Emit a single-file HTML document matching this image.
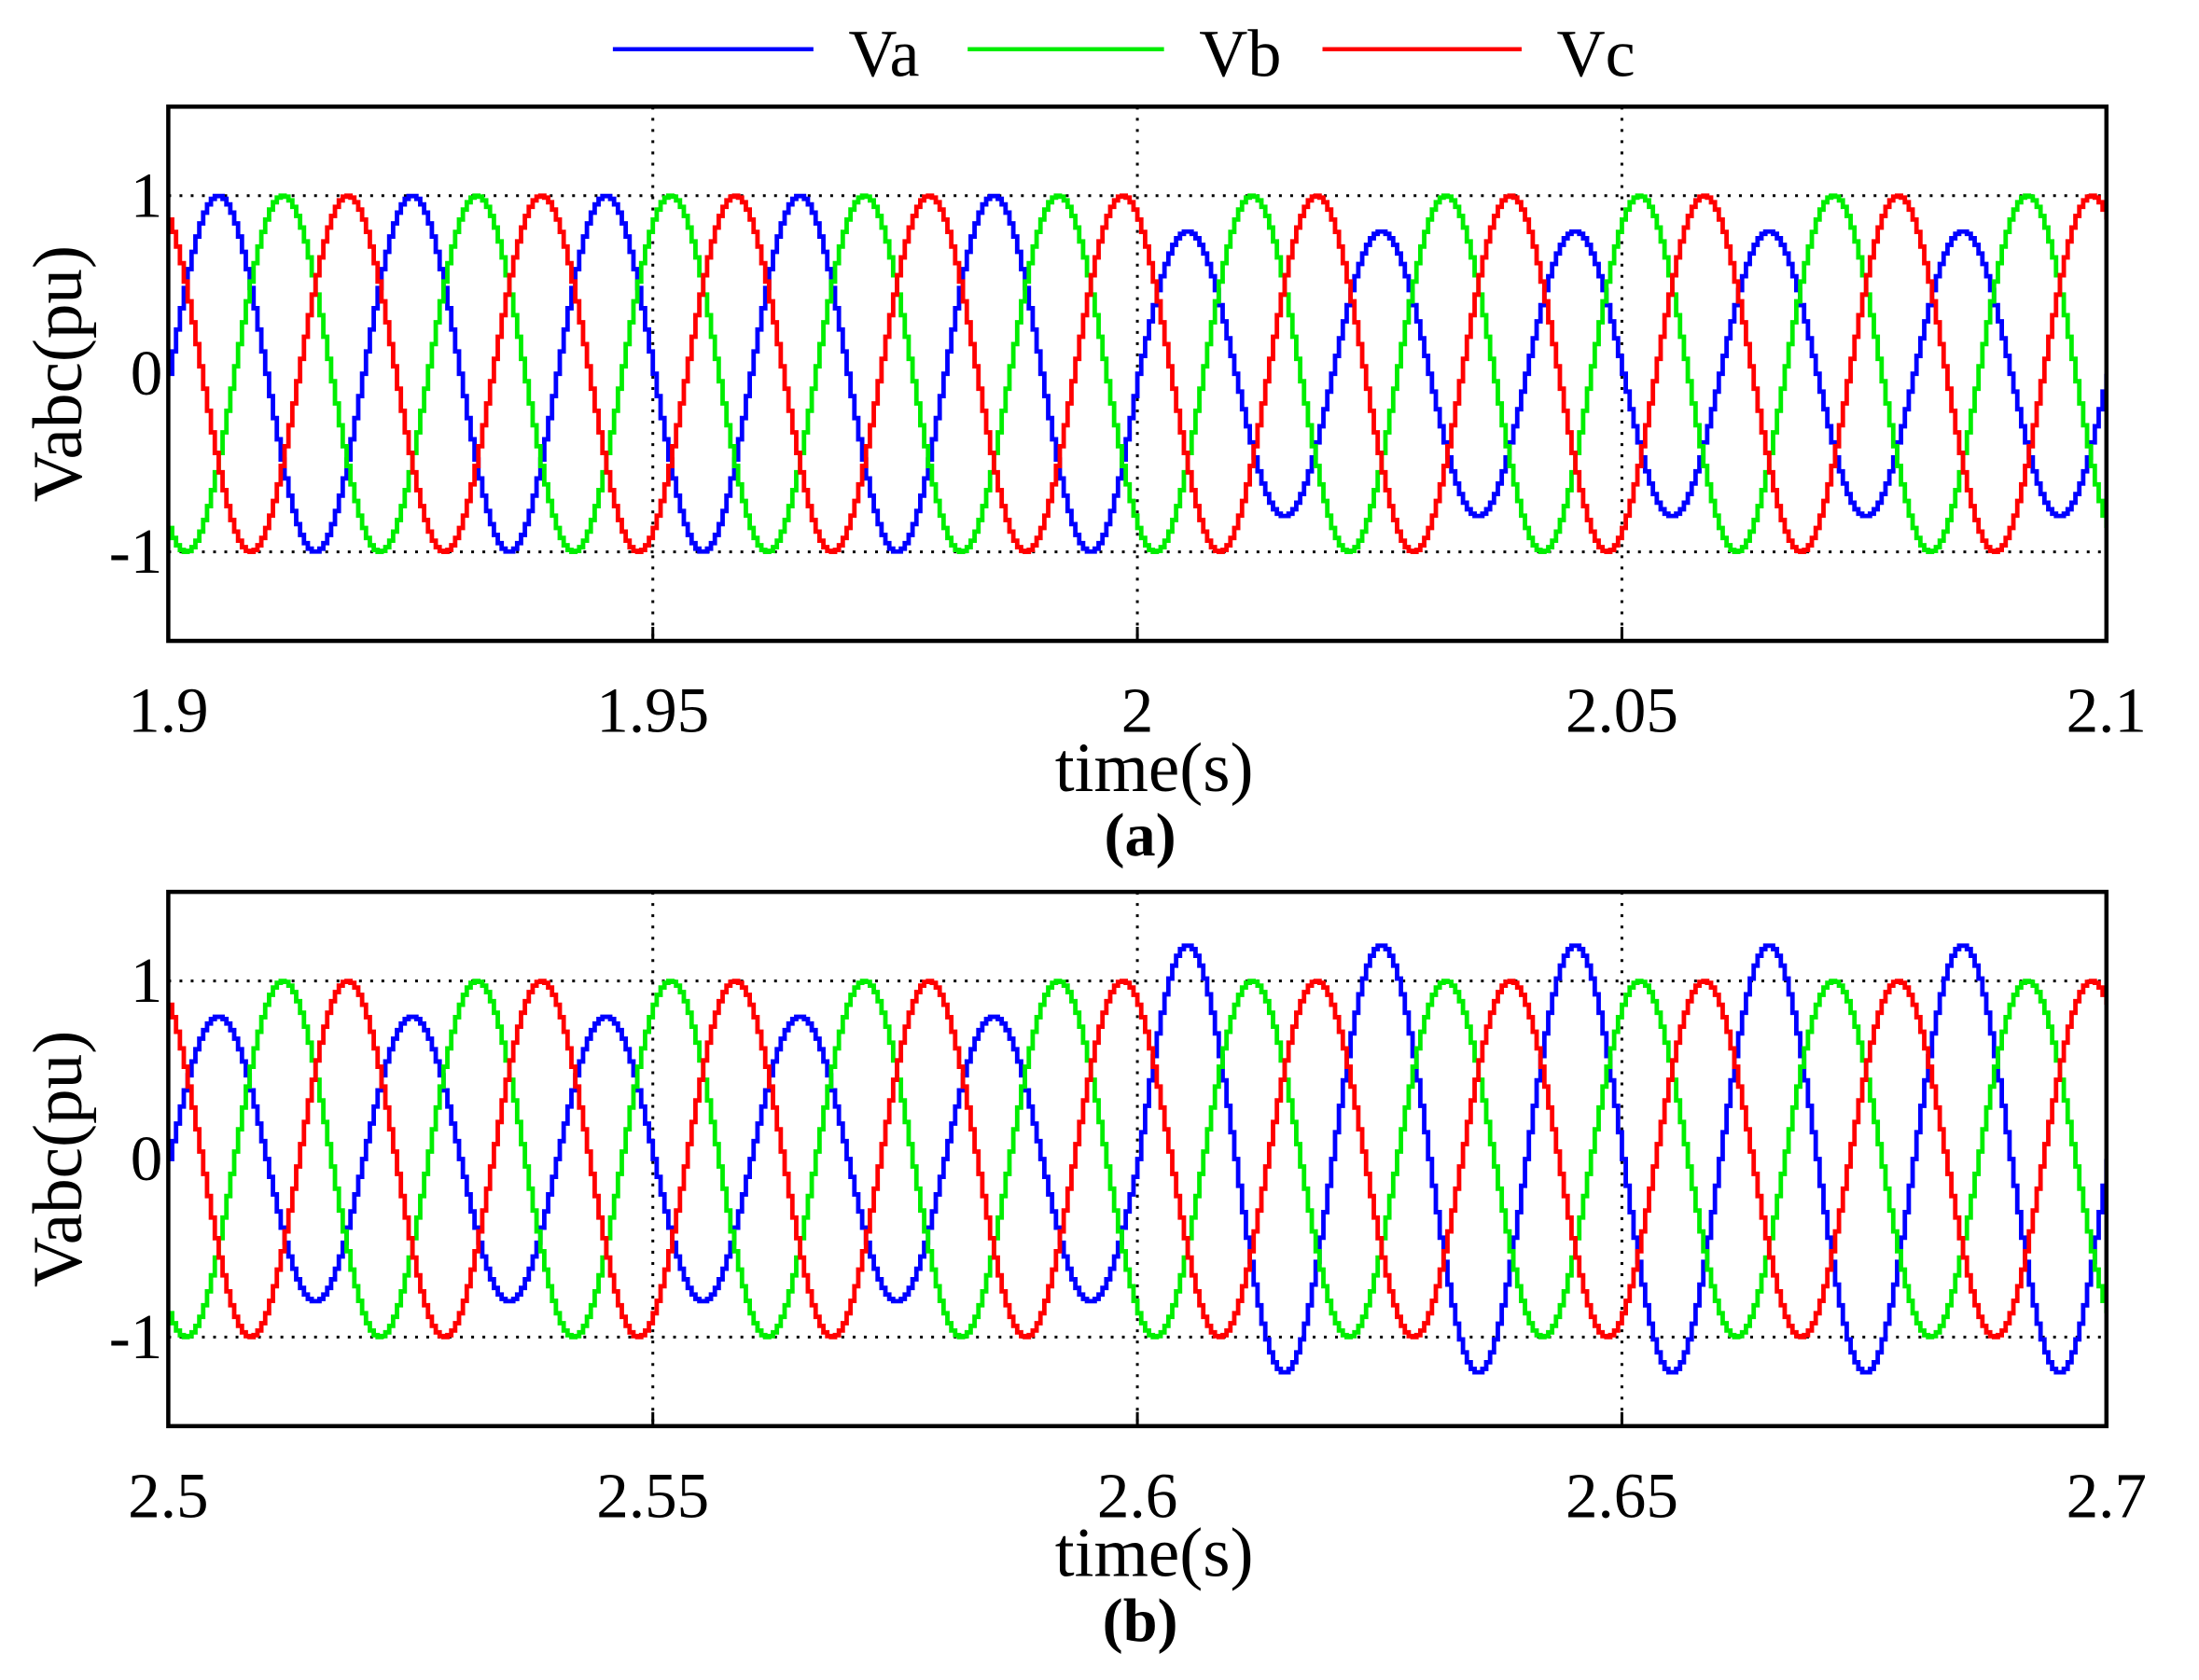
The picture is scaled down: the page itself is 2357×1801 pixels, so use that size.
<!DOCTYPE html>
<html><head><meta charset="utf-8">
<style>
html,body{margin:0;padding:0;background:#fff;}
svg{display:block;}
text{font-family:"Liberation Serif",serif;fill:#000;}
</style></head>
<body>
<svg id="chart" width="2357" height="1801" viewBox="0 0 1568 1198" xmlns="http://www.w3.org/2000/svg">
<g id="legend">
  <line x1="437" y1="35" x2="580" y2="35" stroke="#0000ff" stroke-width="3"/>
  <text x="605" y="54" font-size="48">Va</text>
  <line x1="690" y1="35" x2="830" y2="35" stroke="#00ee00" stroke-width="3"/>
  <text x="855" y="54" font-size="48">Vb</text>
  <line x1="943" y1="35" x2="1085" y2="35" stroke="#ff0000" stroke-width="3"/>
  <text x="1110" y="54" font-size="48">Vc</text>
</g>
</svg>
<script>
// Panel (a) data
const xTicksA = [1.9, 1.95, 2, 2.05, 2.1];
const xTickLabelsA = ["1.9", "1.95", "2", "2.05", "2.1"];
const ampVaA = [1, 1, 1, 1, 1, 0.8, 0.8, 0.8, 0.8, 0.8];
const ampVbA = [1, 1, 1, 1, 1, 1, 1, 1, 1, 1];
const ampVcA = [1, 1, 1, 1, 1, 1, 1, 1, 1, 1];
// Panel (b) data
const xTicksB = [2.5, 2.55, 2.6, 2.65, 2.7];
const xTickLabelsB = ["2.5", "2.55", "2.6", "2.65", "2.7"];
const ampVaB = [0.8, 0.8, 0.8, 0.8, 0.8, 1.2, 1.2, 1.2, 1.2, 1.2];
const ampVbB = [1, 1, 1, 1, 1, 1, 1, 1, 1, 1];
const ampVcB = [1, 1, 1, 1, 1, 1, 1, 1, 1, 1];
// shared
const yTicks = [-1, 0, 1];
const yTickLabels = ["-1", "0", "1"];
const phasesDeg = [0, -120, 120];
const freqHz = 50;
const seriesColors = ["#0000ff", "#00ee00", "#ff0000"];
const seriesNames = ["va", "vb", "vc"];

const NS = "http://www.w3.org/2000/svg";
const svg = document.getElementById("chart");
function mk(tag, attrs, parent) {
  const e = document.createElementNS(NS, tag);
  for (const k in attrs) e.setAttribute(k, attrs[k]);
  (parent || svg).appendChild(e);
  return e;
}

function drawPanel(p) {
  const g = mk("g", {});
  
  
  const L = 120, R = 1502, T = p.top, B = p.top + 381;
  const yMin = -1.5, yMax = 1.5;
  const xs = v => L + (v - p.x0) / (p.x1 - p.x0) * (R - L);
  const ys = v => B - (v - yMin) / (yMax - yMin) * (B - T);
  const clip = mk("clipPath", { id: "clip-" + p.name }, g);
  mk("rect", { x: L, y: T, width: R - L, height: B - T }, clip);
  p.ticks.forEach((t, i) => {
    if (i > 0 && i < p.ticks.length - 1) {
      const gl = mk("line", { x1: xs(t), y1: T, x2: xs(t), y2: B, stroke: "#000", "stroke-width": 2, "stroke-dasharray": "2,6" }, g);
      
      
    }
    const tl = mk("text", { x: xs(t), y: p.top + 446, "font-size": 46, "text-anchor": "middle" }, g);
    tl.textContent = p.labels[i];
    
    
    const tk = mk("line", { x1: xs(t), y1: B, x2: xs(t), y2: B - 10, stroke: "#000", "stroke-width": 2 }, g);
    
    
  });
  yTicks.forEach((v, i) => {
    if (v !== 0) {
      const gl = mk("line", { x1: L, y1: ys(v), x2: R, y2: ys(v), stroke: "#000", "stroke-width": 2, "stroke-dasharray": "2,6" }, g);
      
      
    }
    const tl = mk("text", { x: L - 4, y: ys(v) + 15, "font-size": 46, "text-anchor": "end" }, g);
    tl.textContent = yTickLabels[i];
    
    
  });
  const amps = [p.va, p.vb, p.vc];
  const period = 1 / freqHz, step = 0.0004;
  amps.forEach((amp, si) => {
    let d = "";
    const n = Math.round((p.x1 - p.x0) / step);
    for (let k = 0; k <= n; k++) {
      const t = k * step;
      const cyc = Math.min(amp.length - 1, Math.floor(t / period + 1e-9));
      const v = amp[cyc] * Math.sin(2 * Math.PI * freqHz * t + phasesDeg[si] * Math.PI / 180);
      const X = xs(p.x0 + t), Y = ys(v);
      if (k === 0) d += "M" + X.toFixed(2) + "," + Y.toFixed(2);
      else d += "H" + X.toFixed(2) + "V" + Y.toFixed(2);
    }
    const path = mk("path", { d: d, fill: "none", stroke: seriesColors[si], "stroke-width": 3.2, "clip-path": "url(#clip-" + p.name + ")" }, g);
    
    
  });
  const frame = mk("rect", { x: L, y: T, width: R - L, height: B - T, fill: "none", stroke: "#000", "stroke-width": 3 }, g);
  
  
  const yl = mk("text", { x: 0, y: 0, "font-size": 50, "text-anchor": "middle", transform: "translate(58," + ys(0) + ") rotate(-90)" }, g);
  yl.textContent = "Vabc(pu)";
  
  
  const xl = mk("text", { x: 823, y: p.top + 488, "font-size": 50, "text-anchor": "middle" }, g);
  xl.textContent = "time(s)";
  
  
  const cap = mk("text", { x: 813, y: p.top + 534, "font-size": 44, "font-weight": "bold", "text-anchor": "middle" }, g);
  cap.textContent = p.caption;
  
  
}

drawPanel({ name: "panel-a", top: 76, x0: 1.9, x1: 2.1, ticks: xTicksA, labels: xTickLabelsA, va: ampVaA, vb: ampVbA, vc: ampVcA, caption: "(a)" });
drawPanel({ name: "panel-b", top: 636, x0: 2.5, x1: 2.7, ticks: xTicksB, labels: xTickLabelsB, va: ampVaB, vb: ampVbB, vc: ampVcB, caption: "(b)" });
</script>
</body></html>
